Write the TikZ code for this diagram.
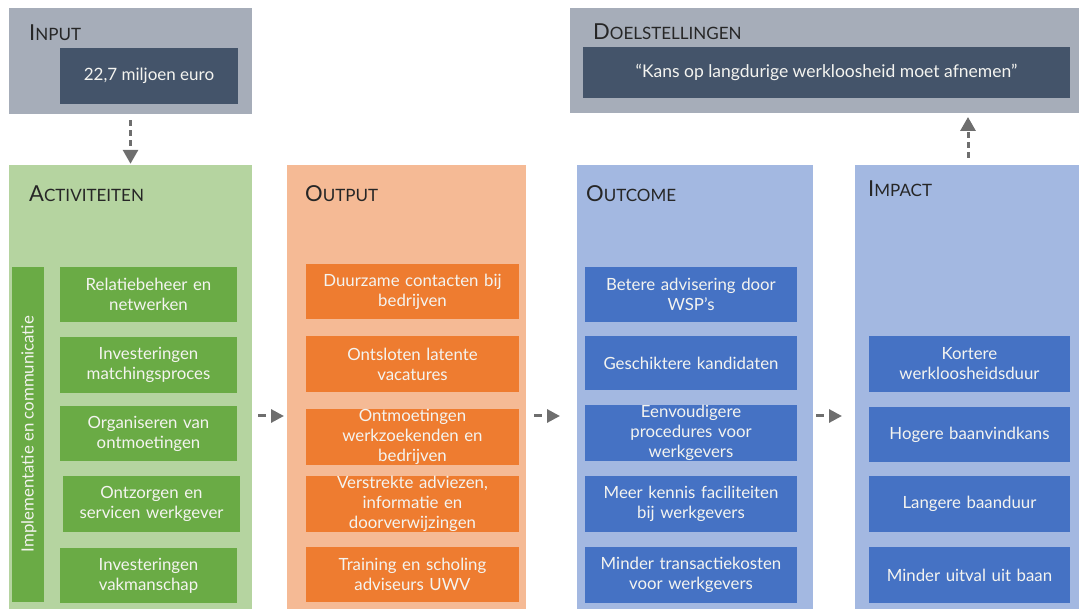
\documentclass[tikz,border=0pt]{standalone}
\usepackage{fontspec}
\setmainfont{Lato}
\usetikzlibrary{arrows.meta}
\definecolor{grayout}{HTML}{A6ADB9}
\definecolor{darkin}{HTML}{44546A}
\definecolor{lgreen}{HTML}{B5D4A0}
\definecolor{dgreen}{HTML}{6AAB45}
\definecolor{lorange}{HTML}{F5BA95}
\definecolor{dorange}{HTML}{EE7C30}
\definecolor{lblue}{HTML}{A3B8E1}
\definecolor{dblue}{HTML}{4572C4}
\definecolor{arrowgray}{HTML}{6E6E6E}
\definecolor{hdrtext}{HTML}{262626}
\definecolor{boxtext}{HTML}{F4F4F0}
\newcommand\hdrcap[2]{{\fontsize{22}{24}\selectfont #1}{\fontsize{17}{20}\selectfont #2}}
\tikzset{
  panel/.style={rectangle, inner sep=0pt, draw=none},
  inbox/.style={rectangle, inner sep=0pt, draw=none, align=center, text=boxtext,
    font=\fontsize{16.8}{20}\selectfont},
  gbox/.style={inbox, fill=dgreen, text width=175},
  obox/.style={inbox, fill=dorange, text width=210},
  cbox/.style={inbox, fill=dblue, text width=210},
  ibox/.style={inbox, fill=dblue, text width=199},
  hdr/.style={anchor=west, inner sep=0pt, text=hdrtext},
  flowarrow/.style={draw=arrowgray, line width=3pt, dash pattern=on 8pt off 20pt,
    -{Triangle[length=13pt,width=13pt]}},
  vertarrow/.style={draw=arrowgray, line width=3pt, dash pattern=on 6pt off 4pt,
    -{Triangle[length=14pt,width=15pt]}},
}
\begin{document}
\begin{tikzpicture}[x=1pt,y=-1pt]
\useasboundingbox (0,0) rectangle (1079,609);
% top panels
\node[panel, fill=grayout, minimum width=243, minimum height=106] (inp) at (130.5,61) {};
\node[inbox, fill=darkin, minimum width=178, minimum height=56, font=\fontsize{17}{20}\selectfont] (inpv) at (149,76) {22,7 miljoen euro};
\node[hdr] (inph) at (29,33) {\hdrcap{I}{NPUT}};
\node[panel, fill=grayout, minimum width=509, minimum height=105] (doel) at (824.5,60.5) {};
\node[inbox, fill=darkin, minimum width=487, minimum height=51, font=\fontsize{17.5}{20}\selectfont] (doelv) at (826.5,72.5) {“Kans op langdurige werkloosheid moet afnemen”};
\node[hdr] (doelh) at (593,32) {\hdrcap{D}{OELSTELLINGEN}};
% columns
\node[panel, fill=lgreen, minimum width=243, minimum height=445] (act) at (130.5,387.5) {};
\node[panel, fill=lorange, minimum width=239, minimum height=445] (out) at (406.5,387.5) {};
\node[panel, fill=lblue, minimum width=236, minimum height=445] (oc) at (695,387.5) {};
\node[panel, fill=lblue, minimum width=224, minimum height=445] (imp) at (967,387.5) {};
\node[hdr] (acth) at (29,194) {\hdrcap{A}{CTIVITEITEN}};
\node[hdr] (outh) at (305,194) {\hdrcap{O}{UTPUT}};
\node[hdr] (och) at (586,194) {\hdrcap{O}{UTCOME}};
\node[hdr] (imph) at (868,189) {\hdrcap{I}{MPACT}};
% activiteiten
\node[panel, fill=dgreen, minimum width=32, minimum height=335] (bar) at (28,434.5) {};
\node[text=boxtext, rotate=90, inner sep=0pt, font=\fontsize{16.8}{20}\selectfont] (bart) at (29,434) {Implementatie en communicatie};
\node[gbox, minimum width=177, minimum height=55] (g1) at (148.5,294.5) {Relatiebeheer en\\netwerken};
\node[gbox, minimum width=177, minimum height=56] (g2) at (148.5,365) {Investeringen\\matchingsproces};
\node[gbox, minimum width=177, minimum height=55] (g3) at (148.5,433.5) {Organiseren van\\ontmoetingen};
\node[gbox, minimum width=177, minimum height=56] (g4) at (151.5,504) {Ontzorgen en\\servicen werkgever};
\node[gbox, minimum width=177, minimum height=55] (g5) at (148.5,575.5) {Investeringen\\vakmanschap};
% output
\node[obox, minimum width=213, minimum height=55] (o1) at (412.5,291.5) {Duurzame contacten bij\\bedrijven};
\node[obox, minimum width=213, minimum height=56] (o2) at (412.5,364) {Ontsloten latente\\vacatures};
\node[obox, minimum width=213, minimum height=56] (o3) at (412.5,437) {Ontmoetingen\\werkzoekenden en\\bedrijven};
\node[obox, minimum width=213, minimum height=56] (o4) at (412.5,504) {Verstrekte adviezen,\\informatie en\\doorverwijzingen};
\node[obox, minimum width=213, minimum height=55] (o5) at (412.5,574.5) {Training en scholing\\adviseurs UWV};
% outcome
\node[cbox, minimum width=212, minimum height=55] (c1) at (691,294.5) {Betere advisering door\\WSP’s};
\node[cbox, minimum width=212, minimum height=54] (c2) at (691,363) {Geschiktere kandidaten};
\node[cbox, minimum width=212, minimum height=56] (c3) at (691,433) {Eenvoudigere\\procedures voor\\werkgevers};
\node[cbox, minimum width=212, minimum height=56] (c4) at (691,504) {Meer kennis faciliteiten\\bij werkgevers};
\node[cbox, minimum width=212, minimum height=56] (c5) at (691,575) {Minder transactiekosten\\voor werkgevers};
% impact
\node[ibox, minimum width=201, minimum height=56] (i1) at (969.5,364) {Kortere\\werkloosheidsduur};
\node[ibox, minimum width=201, minimum height=55] (i2) at (969.5,434.5) {Hogere baanvindkans};
\node[ibox, minimum width=201, minimum height=56] (i3) at (969.5,504) {Langere baanduur};
\node[ibox, minimum width=201, minimum height=56] (i4) at (969.5,575) {Minder uitval uit baan};
% connectors
\coordinate (a1s) at (258,416); \coordinate (a1e) at (284,416);
\coordinate (a2s) at (534,416); \coordinate (a2e) at (560,416);
\coordinate (a3s) at (816,416); \coordinate (a3e) at (842,416);
\draw[flowarrow] (a1s) -- (a1e);
\draw[flowarrow] (a2s) -- (a2e);
\draw[flowarrow] (a3s) -- (a3e);
\draw[vertarrow] ([yshift=-6pt]inp.south) -- ([yshift=1pt]act.north);
\coordinate (upS) at (968,158); \coordinate (upE) at (968,117);
\draw[vertarrow] (upS) -- (upE);
\end{tikzpicture}
\end{document}
